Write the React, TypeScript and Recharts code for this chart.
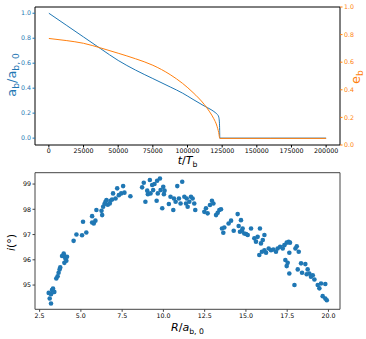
import { LineChart, Line, XAxis, YAxis, ScatterChart, Scatter, Label, ReferenceLine } from 'recharts'

const BLUE = '#1f77b4'
const ORANGE = '#ff7f0e'
const FONT = 'DejaVu Sans'

// top panel: semi-major axis (left) and eccentricity (right) vs time
const blueT = [0, 12500, 25000, 37500, 50000, 62500, 75000, 87500, 96500, 104000, 112000, 117000, 120000, 121500, 122500, 123000, 123200, 123300, 160000, 200000]
const blueA = [1.0, 0.905, 0.81, 0.715, 0.622, 0.545, 0.477, 0.41, 0.36, 0.31, 0.258, 0.228, 0.205, 0.19, 0.17, 0.13, 0.06, 0.0, 0.0, 0.0]

const orangeT = [0, 12500, 25000, 37500, 50000, 62500, 75000, 87500, 96500, 104000, 112000, 116000, 119000, 121000, 122500, 123300, 140000, 200000]
const orangeE = [0.772, 0.757, 0.737, 0.703, 0.665, 0.625, 0.578, 0.51, 0.446, 0.38, 0.295, 0.24, 0.19, 0.145, 0.09, 0.048, 0.048, 0.048]

const tTicks = [0, 25000, 50000, 75000, 100000, 125000, 150000, 175000, 200000]
const fracTicks = [0, 0.2, 0.4, 0.6, 0.8, 1.0]
const aDomain = [-0.055, 1.05]

// bottom panel: inclination vs radius
const scatterR = [
  3.05, 3.11, 3.19, 3.25, 3.31, 3.39, 3.19, 3.51, 3.59, 3.65, 3.71, 3.75, 3.86, 3.96, 4.0, 4.06, 4.16, 4.0, 4.12,
  4.56, 4.73, 5.07, 5.13, 5.33, 5.68, 5.68, 5.78, 5.88, 5.94, 6.25, 6.29, 6.35, 6.43, 6.49, 6.55, 6.63, 6.75, 6.79,
  6.89, 6.95, 7.1, 7.2, 7.3, 7.44, 7.56, 7.64, 8.0, 8.71, 8.81, 8.91, 9.02, 9.06, 9.18, 9.22, 9.32, 9.38, 9.46,
  9.59, 9.62, 9.66, 9.79, 9.83, 9.93, 9.99, 10.03, 10.07, 10.33, 10.43, 10.6, 10.64, 10.74, 10.84, 10.94, 11.04,
  11.14, 11.27, 11.41, 11.37, 11.47, 11.57, 11.67, 11.77, 11.87, 11.93, 12.48, 12.58, 12.68, 12.82, 12.94, 13.03,
  13.19, 13.29, 13.39, 13.49, 13.55, 13.63, 13.69, 13.95, 14.1, 14.26, 14.5, 14.56, 14.64, 14.7, 14.76, 14.8,
  14.9, 15.01, 15.11, 15.31, 15.51, 15.61, 15.71, 15.85, 15.91, 16.02, 16.12, 15.81, 15.97, 16.12, 16.22, 16.38,
  16.52, 16.66, 16.82, 16.92, 17.07, 17.23, 17.33, 17.47, 17.59, 17.67, 17.63, 17.39, 17.53, 17.47, 17.63, 17.94,
  18.0, 18.08, 18.2, 18.14, 18.34, 18.4, 18.6, 18.74, 18.68, 18.84, 18.94, 19.05, 19.15, 19.35, 19.45, 19.55,
  19.81, 19.65, 19.81, 19.9,
]
const scatterI = [
  94.69, 94.47, 94.27, 94.8, 94.86, 94.73, 94.64, 95.26, 95.35, 95.49, 95.62, 95.7, 96.15, 96.25, 96.15, 96.05, 96.12, 95.88, 95.96,
  96.75, 97.0, 96.97, 97.51, 97.08, 97.73, 97.48, 97.44, 97.55, 97.97, 97.94, 97.77, 98.1, 98.21, 98.3, 98.37, 98.18, 98.23, 98.34,
  98.39, 98.63, 98.43, 98.83, 98.56, 98.63, 98.92, 98.66, 98.52, 98.87, 99.05, 98.3, 98.74, 98.6, 99.16, 98.63, 98.96, 98.76, 99.0,
  98.34, 99.13, 98.63, 99.22, 98.76, 98.04, 98.89, 98.6, 98.74, 98.21, 98.5, 97.97, 98.43, 98.3, 98.92, 98.43, 98.23,
  99.09, 98.5, 98.43, 98.23, 98.1, 98.3, 98.5, 98.43, 98.23, 97.97, 97.9, 98.04, 97.84, 98.17, 98.34, 98.23,
  97.77, 97.86, 97.97, 98.0, 97.24, 97.07, 97.28, 97.44, 97.55, 97.15, 97.81, 97.34, 97.11, 97.57, 97.15, 97.24,
  97.04, 97.02, 96.98, 97.24, 96.85, 96.72, 96.91, 97.24, 96.65, 96.78, 96.98, 96.19, 96.32, 96.38, 96.28, 96.45,
  96.38, 96.41, 96.32, 96.45, 96.52, 96.45, 96.58, 96.68, 96.71, 96.68, 96.28, 95.99, 95.88, 95.75, 95.46, 95.0,
  96.45, 96.54, 96.32, 95.62, 95.86, 95.49, 95.83, 95.62, 95.43, 95.46, 95.33, 95.39, 95.22, 95.0, 94.87, 95.06,
  95.04, 94.56, 94.47, 94.4,
]
const rTicks = [2.5, 5.0, 7.5, 10.0, 12.5, 15.0, 17.5, 20.0]
const iTicks = [95, 96, 97, 98, 99]
const rDomain = [2.22, 20.7]
const iDomain = [94.04, 99.45]

const tickFont = { fontSize: 6.3, fontFamily: FONT }
const LABEL_SIZE = 11

const Dot = (p: any) => <circle cx={p.cx} cy={p.cy} r={2.3} fill={BLUE} />

export default function App() {
  const blueData = blueT.map((t, k) => ({ t, a: blueA[k] }))
  const orangeData = orangeT.map((t, k) => ({ t, e: orangeE[k] }))
  const scatterData = scatterR.map((R, k) => ({ R, inc: scatterI[k] }))

  return (
    <div style={{ position: 'absolute', left: 0, top: 0, width: 366, height: 339, background: '#fff', fontFamily: FONT }}>
      <LineChart width={366} height={170} margin={{ top: 7, right: 0, bottom: 0, left: 0 }}>
        <XAxis
          xAxisId="b"
          type="number"
          dataKey="t"
          domain={[-10000, 210000]}
          ticks={tTicks}
          interval={0}
          allowDataOverflow
          height={25}
          tickSize={2.5}
          tickMargin={1.5}
          stroke="#000"
          tick={{ ...tickFont, fill: '#000' }}
        >
          <Label
            content={({ viewBox }: any) => (
              <text x={viewBox.x + viewBox.width / 2} y={viewBox.y + 19} textAnchor="middle" fontSize={LABEL_SIZE} fontFamily={FONT} fill="#000">
                <tspan fontStyle="italic">t</tspan>/<tspan fontStyle="italic">T</tspan>
                <tspan dy={3} fontSize={LABEL_SIZE * 0.7}>b</tspan>
              </text>
            )}
          />
        </XAxis>
        <YAxis
          yAxisId="l"
          type="number"
          domain={aDomain}
          ticks={fracTicks}
          interval={0}
          allowDataOverflow
          width={35}
          tickSize={2.5}
          tickMargin={1.5}
          axisLine={{ stroke: '#000' }}
          tickLine={{ stroke: BLUE }}
          tick={{ ...tickFont, fill: BLUE }}
          tickFormatter={(v: number) => v.toFixed(1)}
        >
          <Label
            content={() => (
              <text transform="translate(15.5,75) rotate(-90)" textAnchor="middle" fontSize={13} fontFamily={FONT} fill={BLUE}>
                a<tspan dy={3.5} fontSize={13 * 0.7}>b</tspan>
                <tspan dy={-3.5}>/a</tspan>
                <tspan dy={3.5} fontSize={13 * 0.7}>b, 0</tspan>
              </text>
            )}
          />
        </YAxis>
        <YAxis
          yAxisId="r"
          orientation="right"
          type="number"
          domain={[0, 1]}
          ticks={fracTicks}
          interval={0}
          width={26}
          tickSize={2.5}
          tickMargin={1.5}
          axisLine={{ stroke: '#000' }}
          tickLine={{ stroke: ORANGE }}
          tick={{ ...tickFont, fill: ORANGE }}
          tickFormatter={(v: number) => v.toFixed(1)}
        >
          <Label
            content={() => (
              <text transform="translate(359.5,77) rotate(-90)" textAnchor="middle" fontSize={13} fontFamily={FONT} fill={ORANGE}>
                e<tspan dy={3.5} fontSize={13 * 0.7}>b</tspan>
              </text>
            )}
          />
        </YAxis>
        <ReferenceLine xAxisId="b" yAxisId="l" y={aDomain[1]} stroke="#000" />
        <Line xAxisId="b" yAxisId="l" data={blueData} dataKey="a" type="monotone" stroke={BLUE} strokeWidth={1} dot={false} isAnimationActive={false} />
        <Line xAxisId="b" yAxisId="r" data={orangeData} dataKey="e" type="monotone" stroke={ORANGE} strokeWidth={1} dot={false} isAnimationActive={false} />
      </LineChart>

      <ScatterChart width={366} height={169} margin={{ top: 2.7, right: 26, bottom: 0, left: 0 }}>
        <XAxis
          xAxisId="b"
          type="number"
          dataKey="R"
          domain={rDomain}
          ticks={rTicks}
          interval={0}
          allowDataOverflow
          height={29.7}
          tickSize={2.5}
          tickMargin={1.5}
          stroke="#444"
          tick={{ ...tickFont, fill: '#000' }}
          tickFormatter={(v: number) => v.toFixed(1)}
        >
          <Label
            content={({ viewBox }: any) => (
              <text x={viewBox.x + viewBox.width / 2} y={viewBox.y + 22} textAnchor="middle" fontSize={LABEL_SIZE} fontFamily={FONT} fill="#000">
                <tspan fontStyle="italic">R</tspan>/<tspan fontStyle="italic">a</tspan>
                <tspan dy={3} fontSize={LABEL_SIZE * 0.7}>b, 0</tspan>
              </text>
            )}
          />
        </XAxis>
        <YAxis
          yAxisId="l"
          type="number"
          dataKey="inc"
          domain={iDomain}
          ticks={iTicks}
          interval={0}
          allowDataOverflow
          width={35}
          tickSize={2.5}
          tickMargin={1.5}
          stroke="#444"
          tick={{ ...tickFont, fill: '#000' }}
        >
          <Label
            content={() => (
              <text transform="translate(15,72.5) rotate(-90)" textAnchor="middle" fontSize={LABEL_SIZE} fontFamily={FONT} fill="#000">
                <tspan fontStyle="italic">i</tspan>(°)
              </text>
            )}
          />
        </YAxis>
        <ReferenceLine xAxisId="b" yAxisId="l" x={rDomain[1]} stroke="#444" />
        <ReferenceLine xAxisId="b" yAxisId="l" y={iDomain[1]} stroke="#444" />
        <Scatter xAxisId="b" yAxisId="l" data={scatterData} shape={Dot} isAnimationActive={false} />
      </ScatterChart>
    </div>
  )
}
